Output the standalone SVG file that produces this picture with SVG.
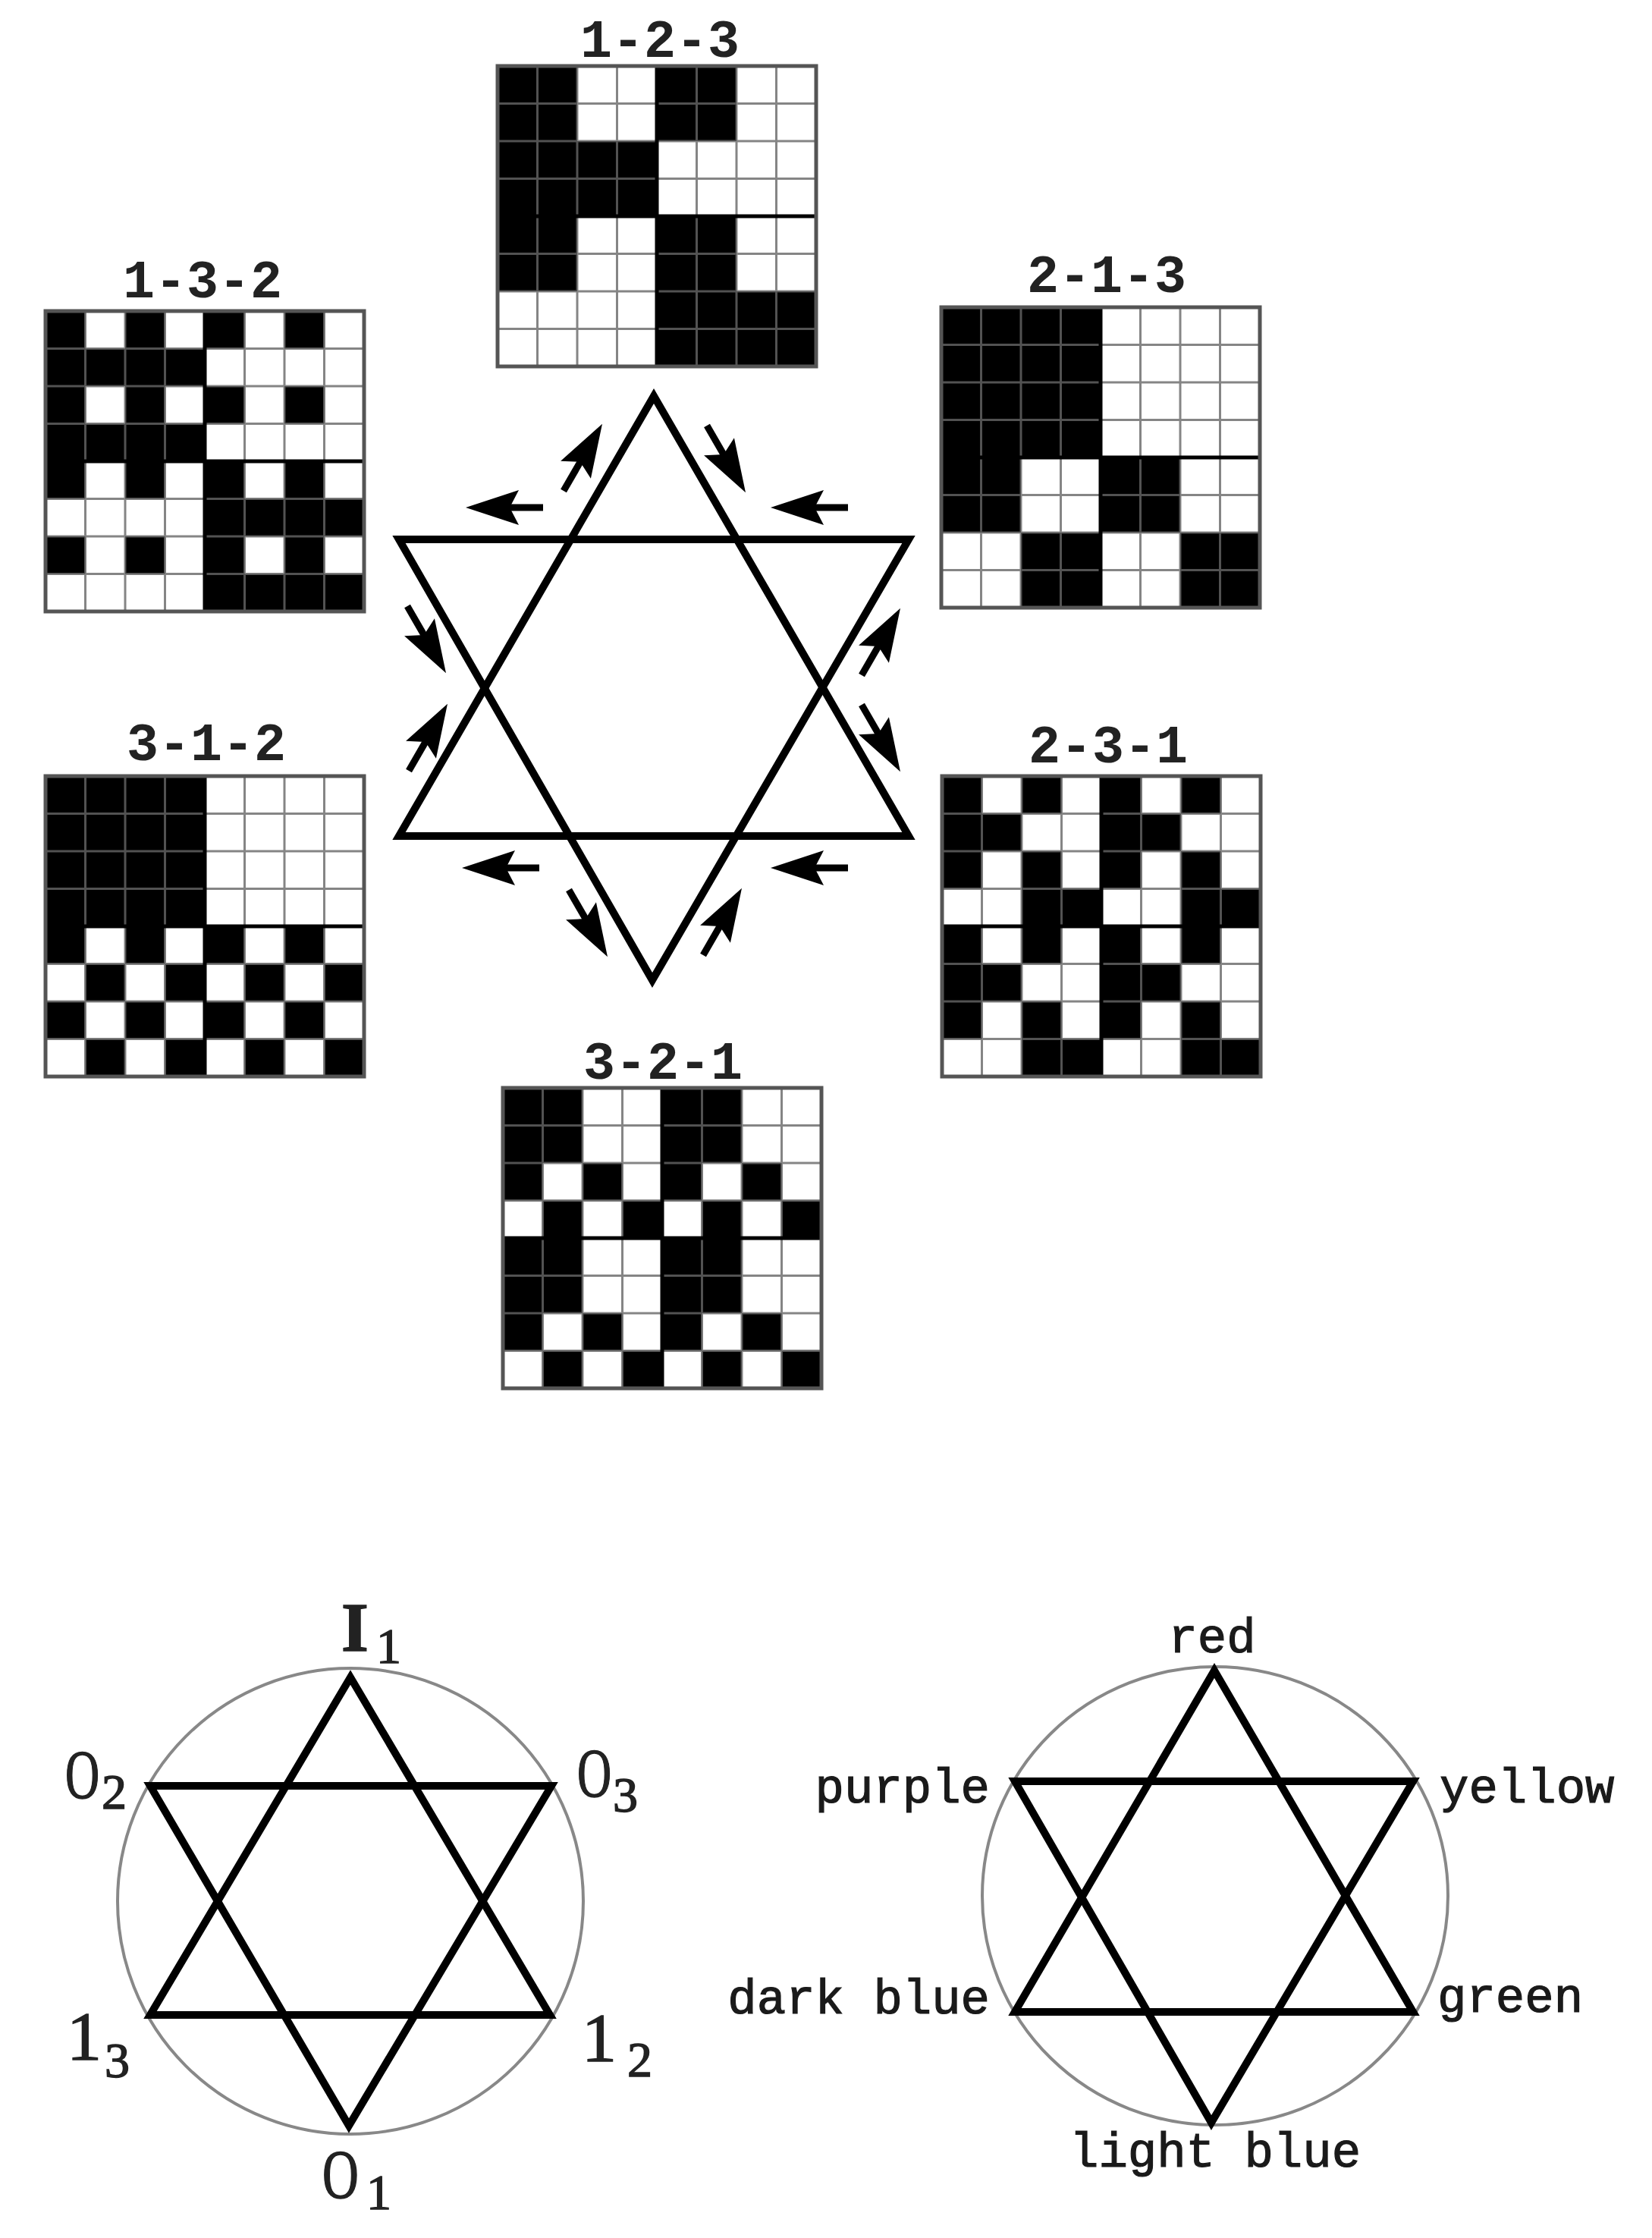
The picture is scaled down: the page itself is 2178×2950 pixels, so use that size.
<svg xmlns="http://www.w3.org/2000/svg" xmlns:xlink="http://www.w3.org/1999/xlink" width="2178" height="2950" viewBox="0 0 2178 2950">
<style>
.thin{stroke:#666;stroke-opacity:.8;stroke-width:3;fill:none}
.thick{stroke:#000;stroke-width:5;fill:none}
.border{stroke:#555;stroke-width:5;fill:none}
.lbl{font-family:"Liberation Mono",monospace;font-weight:bold;font-size:70px;text-anchor:middle;fill:#222}
.star{fill:none;stroke:#000;stroke-width:10;stroke-linejoin:miter}
.ring{fill:none;stroke:#888;stroke-width:4}
.io{font-family:"Liberation Serif","Times New Roman",serif;font-size:92px;fill:#222;stroke:#222;stroke-width:1.5}
.sub{font-size:66px}
.col{font-family:"Liberation Mono",monospace;font-size:64px;fill:#1a1a1a;stroke:#1a1a1a;stroke-width:1.2}
</style>
<defs>
<g id="gl">
<path class="thin" d="M52.5 0V396M105 0V396M157.5 0V396M262.5 0V396M315 0V396M367.5 0V396M0 49.5H420M0 99H420M0 148.5H420M0 247.5H420M0 297H420M0 346.5H420"/>
<path class="thick" d="M210 0V396M0 198H420"/>
<rect class="border" x="0" y="0" width="420" height="396"/>
</g>
<g id="arr"><path d="M0 0H50" stroke="#000" stroke-width="9"/><path d="M102 0L32 -23L44 0L32 23Z" fill="#000"/></g>
</defs>
<rect width="2178" height="2950" fill="#fff"/>

<g id="grid-1-2-3">
<text class="lbl" x="870" y="75">1-2-3</text>
<g transform="translate(656,87)">
<rect width="420" height="396" fill="#fff"/>
<path transform="scale(52.5,49.5)" fill="#000" d="M0 0h2v2h-2zM4 0h2v2h-2zM0 2h4v2h-4zM0 4h2v2h-2zM4 4h2v2h-2zM4 6h4v2h-4z"/>
<use xlink:href="#gl" href="#gl"/>
</g>
</g>

<g id="grid-1-3-2">
<text class="lbl" x="267" y="392">1-3-2</text>
<g transform="translate(60,410)">
<rect width="420" height="396" fill="#fff"/>
<path transform="scale(52.5,49.5)" fill="#000" d="M0 0h1v1h-1zM2 0h1v1h-1zM4 0h1v1h-1zM6 0h1v1h-1zM0 1h4v1h-4zM0 2h1v1h-1zM2 2h1v1h-1zM4 2h1v1h-1zM6 2h1v1h-1zM0 3h4v1h-4zM0 4h1v1h-1zM2 4h1v1h-1zM4 4h1v1h-1zM6 4h1v1h-1zM4 5h4v1h-4zM0 6h1v1h-1zM2 6h1v1h-1zM4 6h1v1h-1zM6 6h1v1h-1zM4 7h4v1h-4z"/>
<use xlink:href="#gl" href="#gl"/>
</g>
</g>

<g id="grid-2-1-3">
<text class="lbl" x="1459" y="385">2-1-3</text>
<g transform="translate(1241,405)">
<rect width="420" height="396" fill="#fff"/>
<path transform="scale(52.5,49.5)" fill="#000" d="M0 0h4v4h-4zM0 4h2v2h-2zM4 4h2v2h-2zM2 6h2v2h-2zM6 6h2v2h-2z"/>
<use xlink:href="#gl" href="#gl"/>
</g>
</g>

<g id="grid-3-1-2">
<text class="lbl" x="272" y="1002">3-1-2</text>
<g transform="translate(60,1023)">
<rect width="420" height="396" fill="#fff"/>
<path transform="scale(52.5,49.5)" fill="#000" d="M0 0h4v4h-4zM0 4h1v1h-1zM2 4h1v1h-1zM4 4h1v1h-1zM6 4h1v1h-1zM1 5h1v1h-1zM3 5h1v1h-1zM5 5h1v1h-1zM7 5h1v1h-1zM0 6h1v1h-1zM2 6h1v1h-1zM4 6h1v1h-1zM6 6h1v1h-1zM1 7h1v1h-1zM3 7h1v1h-1zM5 7h1v1h-1zM7 7h1v1h-1z"/>
<use xlink:href="#gl" href="#gl"/>
</g>
</g>

<g id="grid-2-3-1">
<text class="lbl" x="1461" y="1005">2-3-1</text>
<g transform="translate(1242,1023)">
<rect width="420" height="396" fill="#fff"/>
<path transform="scale(52.5,49.5)" fill="#000" d="M0 0h1v1h-1zM2 0h1v1h-1zM4 0h1v1h-1zM6 0h1v1h-1zM0 1h2v1h-2zM4 1h2v1h-2zM0 2h1v1h-1zM2 2h1v1h-1zM4 2h1v1h-1zM6 2h1v1h-1zM2 3h2v1h-2zM6 3h2v1h-2zM0 4h1v1h-1zM2 4h1v1h-1zM4 4h1v1h-1zM6 4h1v1h-1zM0 5h2v1h-2zM4 5h2v1h-2zM0 6h1v1h-1zM2 6h1v1h-1zM4 6h1v1h-1zM6 6h1v1h-1zM2 7h2v1h-2zM6 7h2v1h-2z"/>
<use xlink:href="#gl" href="#gl"/>
</g>
</g>

<g id="grid-3-2-1">
<text class="lbl" x="874" y="1422">3-2-1</text>
<g transform="translate(663,1434)">
<rect width="420" height="396" fill="#fff"/>
<path transform="scale(52.5,49.5)" fill="#000" d="M0 0h2v2h-2zM4 0h2v2h-2zM0 2h1v1h-1zM2 2h1v1h-1zM4 2h1v1h-1zM6 2h1v1h-1zM1 3h1v1h-1zM3 3h1v1h-1zM5 3h1v1h-1zM7 3h1v1h-1zM0 4h2v2h-2zM4 4h2v2h-2zM0 6h1v1h-1zM2 6h1v1h-1zM4 6h1v1h-1zM6 6h1v1h-1zM1 7h1v1h-1zM3 7h1v1h-1zM5 7h1v1h-1zM7 7h1v1h-1z"/>
<use xlink:href="#gl" href="#gl"/>
</g>
</g>

<g id="hexagram">
<polygon class="star" points="862,522 1198,1102 526,1102"/>
<polygon class="star" points="526,711 1198,711 860,1292"/>
</g>

<g id="connectors">
<use xlink:href="#arr" href="#arr" transform="translate(743,647) rotate(-60)"/>
<use xlink:href="#arr" href="#arr" transform="translate(932,561) rotate(60)"/>
<use xlink:href="#arr" href="#arr" transform="translate(716,669) rotate(180)"/>
<use xlink:href="#arr" href="#arr" transform="translate(1118,669) rotate(180)"/>
<use xlink:href="#arr" href="#arr" transform="translate(537,799) rotate(60)"/>
<use xlink:href="#arr" href="#arr" transform="translate(539,1016) rotate(-60)"/>
<use xlink:href="#arr" href="#arr" transform="translate(1136,890) rotate(-60)"/>
<use xlink:href="#arr" href="#arr" transform="translate(1136,929) rotate(60)"/>
<use xlink:href="#arr" href="#arr" transform="translate(711,1144) rotate(180)"/>
<use xlink:href="#arr" href="#arr" transform="translate(1118,1144) rotate(180)"/>
<use xlink:href="#arr" href="#arr" transform="translate(750,1173) rotate(60)"/>
<use xlink:href="#arr" href="#arr" transform="translate(927,1259) rotate(-60)"/>
</g>

<g id="wheel-io">
<circle class="ring" cx="462" cy="2506" r="307"/>
<polygon class="star" points="462,2211 725,2656 198,2656"/>
<polygon class="star" points="198,2354 727,2354 460,2802"/>
<text class="io"><tspan x="450" y="2176" font-weight="bold">I</tspan><tspan class="sub" x="496" y="2192">1</tspan></text>
<text class="io" transform="translate(86,2370) scale(0.68,1)">O</text>
<text class="io sub" x="134" y="2384">2</text>
<text class="io" transform="translate(761,2368) scale(0.68,1)">O</text>
<text class="io sub" x="808" y="2388">3</text>
<text class="io"><tspan x="88" y="2715">1</tspan><tspan class="sub" x="138" y="2738">3</tspan></text>
<text class="io"><tspan x="767" y="2717">1</tspan><tspan class="sub" x="827" y="2737">2</tspan></text>
<text class="io" transform="translate(425,2897) scale(0.72,1)">O</text>
<text class="io sub" x="483" y="2912">1</text>
</g>

<g id="wheel-colors">
<ellipse class="ring" cx="1602" cy="2499" rx="307" ry="302"/>
<polygon class="star" points="1601,2202 1863,2652 1338,2652"/>
<polygon class="star" points="1338,2348 1863,2348 1597,2798"/>
<text class="col" x="1598" y="2178" text-anchor="middle">red</text>
<text class="col" x="1305" y="2376" text-anchor="end">purple</text>
<text class="col" x="1898" y="2376">yellow</text>
<text class="col" x="1305" y="2654" text-anchor="end">dark blue</text>
<text class="col" x="1895" y="2652">green</text>
<text class="col" x="1602" y="2856" text-anchor="middle">light blue</text>
</g>
</svg>
